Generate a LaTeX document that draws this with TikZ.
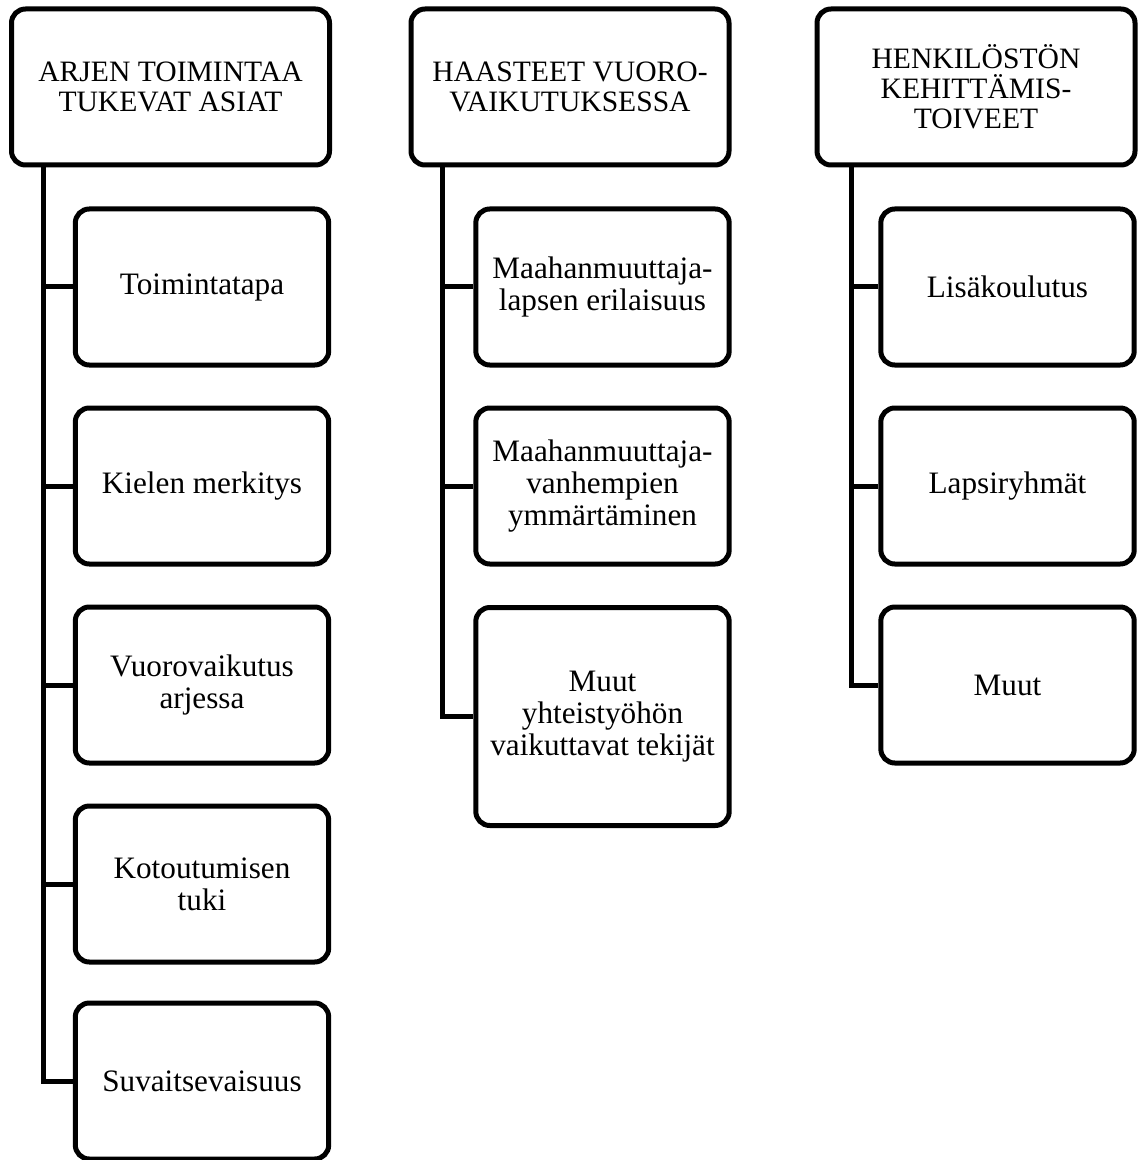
\documentclass[tikz,border=0pt]{standalone}
\usepackage{fontspec}
\setmainfont{Liberation Serif}
\usetikzlibrary{calc}

\tikzset{
    headbox/.style={draw, rounded corners=7pt, line width=2.5pt, minimum width=159pt, minimum height=78pt, align=center, inner sep=2pt, font=\fontsize{14.8pt}{15pt}\selectfont},
    itembox/.style={draw, rounded corners=7pt, line width=2.5pt, minimum width=126.7pt, minimum height=78pt, align=center, inner sep=2pt, font=\fontsize{15.6pt}{16pt}\selectfont},
    branch/.style={line width=2.5pt, line join=miter}
}

\begin{document}
\begin{tikzpicture}[x=0.5pt, y=-0.5pt]

            \useasboundingbox (0,0) rectangle (1139,1160);

            \node (arki) [headbox] at (170.5,87) {ARJEN TOIMINTAA\\TUKEVAT ASIAT};
            \node (haaste) [headbox] at (570,87) {HAASTEET VUORO-\\VAIKUTUKSESSA};
            \node (toive) [headbox] at (976,87) {HENKILÖSTÖN\\KEHITTÄMIS-\\TOIVEET};

            \node (tapa) [itembox] at (202,287) {Toimintatapa};
            \node (kieli) [itembox] at (202,486) {Kielen merkitys};
            \node (vuoro) [itembox] at (202,685) {Vuorovaikutus\\arjessa};
            \node (kotou) [itembox] at (202,884) {Kotoutumisen\\tuki};
            \node (suvait) [itembox] at (202,1081) {Suvaitsevaisuus};

            \node (lapsi) [itembox] at (602.5,287) {Maahanmuuttaja-\\lapsen erilaisuus};
            \node (vanhem) [itembox] at (602.5,486) {Maahanmuuttaja-\\vanhempien\\ymmärtäminen};
            \node (muutyht) [itembox, minimum height=109pt] at (602.5,716.5) {Muut\\yhteistyöhön\\vaikuttavat tekijät};

            \node (koulu) [itembox] at (1007.5,287) {Lisäkoulutus};
            \node (ryhma) [itembox] at (1007.5,486) {Lapsiryhmät};
            \node (muut) [itembox] at (1007.5,685) {Muut};

            \coordinate (spine1) at (43,0);
            \coordinate (spine2) at (442,0);
            \coordinate (spine3) at (851,0);

            \draw [branch] (arki.south -| spine1) |- (suvait.west);
            \draw [branch] (tapa.west) -- (tapa.west -| spine1);
            \draw [branch] (kieli.west) -- (kieli.west -| spine1);
            \draw [branch] (vuoro.west) -- (vuoro.west -| spine1);
            \draw [branch] (kotou.west) -- (kotou.west -| spine1);

            \draw [branch] (haaste.south -| spine2) |- (muutyht.west);
            \draw [branch] (lapsi.west) -- (lapsi.west -| spine2);
            \draw [branch] (vanhem.west) -- (vanhem.west -| spine2);

            \draw [branch] (toive.south -| spine3) |- (muut.west);
            \draw [branch] (koulu.west) -- (koulu.west -| spine3);
            \draw [branch] (ryhma.west) -- (ryhma.west -| spine3);

        \end{tikzpicture}
\end{document}
